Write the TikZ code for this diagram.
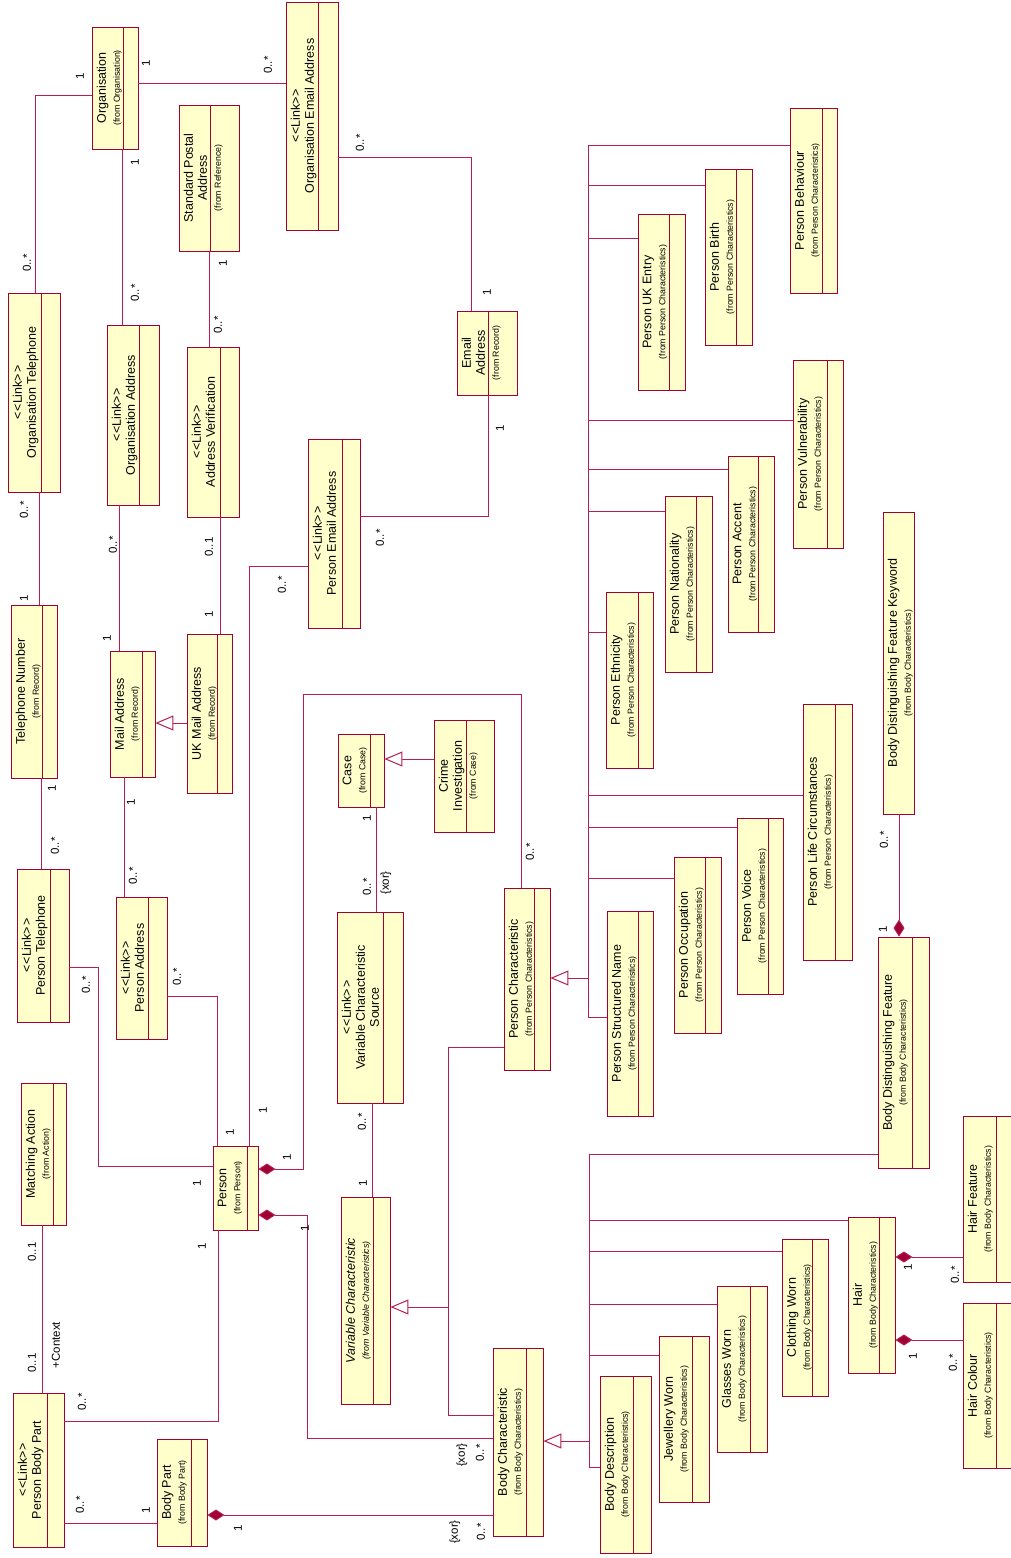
\documentclass[tikz,border=0pt]{standalone}
\usepackage{fontspec}
\setmainfont{Liberation Sans}
\usepackage{tikz}
\usetikzlibrary{arrows.meta,fit}
\definecolor{umlred}{RGB}{160,0,50}
\definecolor{umlline}{RGB}{180,30,85}
\definecolor{umlfill}{RGB}{255,255,204}
\newcommand{\fromtxt}[1]{{\fontsize{8.8}{10}\selectfont(from #1)}}
\newcommand{\linktxt}{<\kern.8pt<Link>\kern.8pt>}
% class box: name, x1, y1, x2, y2, divider, text
\newcommand{\umlclass}[7]{%
  \node[clsbox, fit={(#2,#3) (#4,#5)}] (#1) {};
  \draw[clsdiv] (#6,#3) -- (#6,#5);
  \node[clstext] (#1-t) at ([xshift=5pt]#1.west) {#7};}

\begin{document}
\begin{tikzpicture}[x=1pt, y=-1pt,
  clsbox/.style={draw=umlred, fill=umlfill, line width=0.9pt, inner sep=0pt},
  clsdiv/.style={draw=umlred, line width=0.9pt},
  clstext/.style={rotate=90, anchor=north, align=center, inner sep=0pt, font=\fontsize{12.5}{14}\selectfont},
  mult/.style={rotate=90, inner sep=0pt, font=\fontsize{11.5}{13}\selectfont},
  assoc/.style={draw=umlline, line width=1pt},
  gen/.style={assoc, -{Triangle[open, fill=white, length=18pt, width=15pt]}},
  comp/.style={assoc, -{Diamond[length=17pt, width=11pt, fill=umlred]}}]
  \useasboundingbox[fill=white] (0,0) rectangle (1011,1558);

  % contact and address side
  \umlclass{org}{92}{27}{138}{149}{123}{Organisation\\\fromtxt{Organisation}}
  \umlclass{spa}{179}{105}{239}{251}{210}{Standard Postal\\Address\\\fromtxt{Reference}}
  \umlclass{oem}{286}{2}{338}{230}{318}{\linktxt\\Organisation Email Address}
  \umlclass{otel}{8}{293}{60}{492}{41}{\linktxt\\Organisation Telephone}
  \umlclass{oadr}{107}{325}{159}{505}{139}{\linktxt\\Organisation Address}
  \umlclass{aver}{187}{347}{239}{517}{220}{\linktxt\\Address Verification}
  \umlclass{pem}{308}{439}{360}{628}{342}{\linktxt\\Person Email Address}
  \umlclass{email}{457}{311}{517}{395}{488}{Email\\Address\\\fromtxt{Record}}
  \umlclass{tel}{11}{605}{57}{778}{42}{Telephone Number\\\fromtxt{Record}}
  \umlclass{mail}{110}{651}{155}{777}{142}{Mail Address\\\fromtxt{Record}}
  \umlclass{ukmail}{187}{634}{232}{793}{217}{UK Mail Address\\\fromtxt{Record}}
  \umlclass{ptel}{17}{869}{69}{1022}{50}{\linktxt\\Person Telephone}
  \umlclass{padr}{116}{897}{167}{1039}{148}{\linktxt\\Person Address}

  % person, case, body part
  \umlclass{case}{338}{734}{384}{807}{370}{Case\\\fromtxt{Case}}
  \umlclass{crime}{434}{720}{494}{832}{466}{Crime\\Investigation\\\fromtxt{Case}}
  \umlclass{vcs}{337}{912}{403}{1103}{383}{\linktxt\\Variable Characteristic\\Source}
  \umlclass{pchar}{504}{888}{550}{1070}{534}{Person Characteristic\\\fromtxt{Person Characteristics}}
  \umlclass{vchar}{341}{1197}{390}{1404}{373}{{\itshape Variable Characteristic}\\{\itshape\fromtxt{Variable Characteristics}}}
  \umlclass{person}{213}{1146}{258}{1230}{247}{Person\\\fromtxt{Person}}
  \umlclass{match}{21}{1083}{66}{1225}{53}{Matching Action\\\fromtxt{Action}}
  \umlclass{pbp}{13}{1393}{64}{1547}{47}{\linktxt\\Person Body Part}
  \umlclass{bpart}{157}{1439}{207}{1546}{191}{Body Part\\\fromtxt{Body Part}}
  \umlclass{bchar}{493}{1348}{543}{1536}{526}{Body Characteristic\\\fromtxt{Body Characteristics}}

  % person characteristics
  \umlclass{pbeh}{790}{108}{837}{293}{822}{Person Behaviour\\\fromtxt{Person Characteristics}}
  \umlclass{pbirth}{705}{169}{752}{345}{736}{Person Birth\\\fromtxt{Person Characteristics}}
  \umlclass{pukent}{638}{214}{685}{390}{669}{Person UK Entry\\\fromtxt{Person Characteristics}}
  \umlclass{pvul}{793}{360}{843}{548}{827}{Person Vulnerability\\\fromtxt{Person Characteristics}}
  \umlclass{pacc}{728}{456}{774}{632}{758}{Person Accent\\\fromtxt{Person Characteristics}}
  \umlclass{pnat}{665}{496}{712}{672}{696}{Person Nationality\\\fromtxt{Person Characteristics}}
  \umlclass{peth}{606}{592}{653}{768}{638}{Person Ethnicity\\\fromtxt{Person Characteristics}}
  \umlclass{plife}{803}{704}{852}{960}{835}{Person Life Circumstances\\\fromtxt{Person Characteristics}}
  \umlclass{pvoice}{737}{818}{783}{994}{768}{Person Voice\\\fromtxt{Person Characteristics}}
  \umlclass{pocc}{674}{857}{721}{1033}{705}{Person Occupation\\\fromtxt{Person Characteristics}}
  \umlclass{pname}{607}{911}{653}{1116}{638}{Person Structured Name\\\fromtxt{Person Characteristics}}

  % body characteristics
  \umlclass{bdfk}{883}{512}{914}{814}{914}{Body Distinguishing Feature Keyword\\\fromtxt{Body Characteristics}}
  \umlclass{bdf}{878}{937}{929}{1168}{912}{Body Distinguishing Feature\\\fromtxt{Body Characteristics}}
  \umlclass{hair}{848}{1217}{895}{1373}{879}{Hair\\\fromtxt{Body Characteristics}}
  \umlclass{cloth}{782}{1239}{828}{1396}{812}{Clothing Worn\\\fromtxt{Body Characteristics}}
  \umlclass{glass}{717}{1286}{767}{1452}{750}{Glasses Worn\\\fromtxt{Body Characteristics}}
  \umlclass{jewel}{659}{1336}{709}{1502}{692}{Jewellery Worn\\\fromtxt{Body Characteristics}}
  \umlclass{bdesc}{600}{1376}{651}{1553}{633}{Body Description\\\fromtxt{Body Characteristics}}
  \umlclass{hfeat}{963}{1116}{1011}{1282}{996}{Hair Feature\\\fromtxt{Body Characteristics}}
  \umlclass{hcol}{963}{1303}{1011}{1468}{996}{Hair Colour\\\fromtxt{Body Characteristics}}

  % associations
  \draw[assoc] (org.west |- 0,95) -| (otel.north -| 35,0);
  \draw[assoc] (org.east |- 0,83) -- (oem.west |- 0,83);
  \draw[assoc] (org.south -| 122,0) -- (oadr.north -| 122,0);
  \draw[assoc] (spa.south -| 209,0) -- (aver.north -| 209,0);
  \draw[assoc] (oem.east |- 0,157) -| (email.north -| 471,0);
  \draw[assoc] (otel.south -| 39,0) -- (tel.north -| 39,0);
  \draw[assoc] (oadr.south -| 119,0) -- (mail.north -| 119,0);
  \draw[assoc] (aver.south -| 220,0) -- (ukmail.north -| 220,0);
  \draw[assoc] (email.south -| 488,0) |- (pem.east |- 0,516);
  \draw[assoc] (pem.west |- 0,566) -| (person.north -| 249,0);
  \draw[assoc] (tel.south -| 41,0) -- (ptel.north -| 41,0);
  \draw[assoc] (mail.south -| 124,0) -- (padr.north -| 124,0);
  \draw[gen] (ukmail.west |- 0,723) -- (mail.east |- 0,723);
  \draw[assoc] (ptel.east |- 0,967) -- ++(29,0) |- (person.west |- 0,1166);
  \draw[assoc] (padr.east |- 0,996) -| (person.north -| 217,0);
  \draw[comp] (pchar.north -| 521,0) |- (303,694) |- (person.east |- 0,1169);
  \draw[comp] (bchar.west |- 0,1438) -| (307,1215) -- (person.east |- 0,1215);
  \draw[assoc] (person.south -| 218,0) |- (pbp.east |- 0,1421);
  \draw[assoc] (match.south -| 42,0) -- (pbp.north -| 42,0);
  \draw[assoc] (pbp.east |- 0,1523) -- (bpart.west |- 0,1523);
  \draw[comp] (bchar.west |- 0,1515) -- (bpart.east |- 0,1515);
  \draw[gen] (crime.west |- 0,759) -- (case.east |- 0,759);
  \draw[assoc] (case.south -| 376,0) -- (vcs.north -| 376,0);
  \draw[assoc] (vcs.south -| 372,0) -- (vchar.north -| 372,0);
  \draw[gen] (pchar.west |- 0,1047) -| (448,1307) -- (vchar.east |- 0,1307);
  \draw[assoc] (bchar.west |- 0,1415) -| (448,1307);
  \draw[comp] (bdfk.south -| 899,0) -- (bdf.north -| 899,0);
  \draw[comp] (hfeat.west |- 0,1257) -- (hair.east |- 0,1257);
  \draw[comp] (hcol.west |- 0,1340) -- (hair.east |- 0,1340);

  % generalisation trees
  \coordinate (ptop) at (588,145);
  \coordinate (pbot) at (588,1017);
  \draw[assoc] (ptop) -- (pbot);
  \draw[gen] (ptop |- 0,978) -- (pchar.east |- 0,978);
  \foreach \n/\y in {pbeh/145,pbirth/185,pukent/238,pvul/420,pacc/469,pnat/511,peth/632,plife/795,pvoice/827,pocc/878,pname/1017}
    \draw[assoc] (ptop |- 0,\y) -- (\n.west |- 0,\y);
  \coordinate (btop) at (589,1154);
  \coordinate (bbot) at (589,1467);
  \draw[assoc] (btop) -- (bbot);
  \draw[gen] (btop |- 0,1441) -- (bchar.east |- 0,1441);
  \foreach \n/\y in {bdf/1154,hair/1220,cloth/1251,glass/1304,jewel/1355,bdesc/1467}
    \draw[assoc] (btop |- 0,\y) -- (\n.west |- 0,\y);

  % multiplicities
  \foreach \x/\y/\t [count=\i] in {80/76/1, 27/263/{0..*}, 146/63/1, 268/65/{0..*}, 135/162/1, 135/293/{0..*},
      223/263/1, 218/325/{0..*}, 360/143/{0..*}, 487/292/1, 24/510/{0..*}, 24/598/1, 113/545/{0..*},
      107/638/1, 209/547/{0..1}, 209/614/1, 282/585/{0..*}, 500/428/1, 380/538/{0..*}, 52/788/1,
      55/846/{0..*}, 131/802/1, 133/876/{0..*}, 86/985/{0..*}, 177/977/{0..*}, 367/818/1, 367/887/{0..*},
      386/883/{\{xor\}}, 530/852/{0..*}, 884/840/{0..*}, 883/929/1, 263/1110/1, 230/1132/1, 197/1183/1,
      287/1157/1, 202/1246/1, 305/1228/1, 32/1252/{0..1}, 56/1345/{+Context}, 32/1363/{0..1},
      82/1402/{0..*}, 80/1505/{0..*}, 146/1510/1, 238/1528/1, 362/1122/{0..*}, 363/1183/1,
      462/1455/{\{xor\}}, 480/1453/{0..*}, 455/1532/{\{xor\}}, 481/1532/{0..*}, 908/1267/1,
      955/1275/{0..*}, 913/1356/1, 953/1363/{0..*}}
    \node[mult] (m\i) at (\x,\y) {\t};
\end{tikzpicture}
\end{document}
